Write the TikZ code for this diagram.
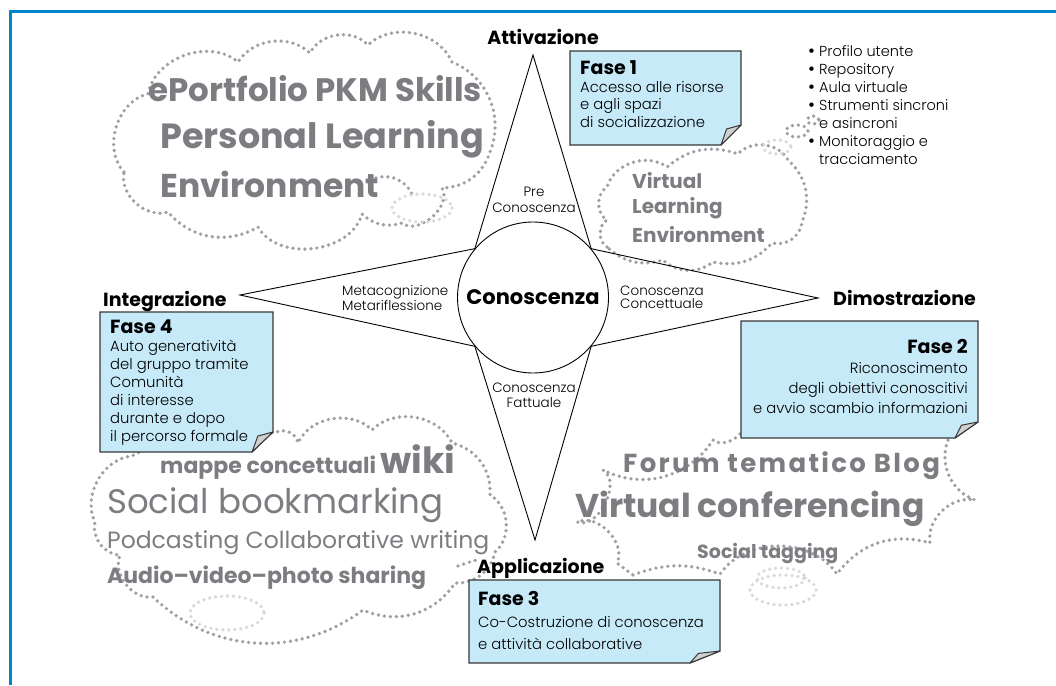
\documentclass[tikz,border=0pt]{standalone}
\usepackage{fontspec}
\setmainfont{Poppins}[BoldFont={Poppins Bold}]
\newfontfamily\lightfont{Poppins Light}
\newfontfamily\heavyfont{Poppins Black}
\definecolor{frameblue}{RGB}{0,133,199}
\definecolor{dotgray}{RGB}{158,159,162}
\definecolor{wordgray}{RGB}{124,125,129}
\definecolor{notefill}{RGB}{199,234,249}
\definecolor{foldgray}{RGB}{208,208,208}
\definecolor{noteedge}{RGB}{55,55,55}
\newcommand{\fasefont}{\normalfont\bfseries\fontsize{19}{19}\selectfont}
\newcommand{\blt}{\makebox[11pt][l]{\fontsize{19}{19}\selectfont\raisebox{-1.2pt}{\textbullet}}}
\tikzset{
	dotline/.style={draw=dotgray,line width=3.7pt,line cap=round,dash pattern=on 0pt off 6pt},
	fadeline/.style={dotline,draw=dotgray!40},
	word/.style 2 args={anchor=base west,inner sep=0pt,text=wordgray,font=#2\fontsize{#1}{#1}\selectfont},
	pole/.style={inner sep=0pt,font=\bfseries\fontsize{19}{19}\selectfont},
	facet/.style 2 args={inner sep=0pt,align=#1,font=\lightfont\fontsize{13.5}{#2}\selectfont},
	core/.style={circle,draw,line width=0.9pt,minimum size=151pt,inner sep=0pt,font=\bfseries\fontsize{21}{21}\selectfont},
	notebody/.style={fill=notefill,draw=noteedge,line width=1.2pt},
	notefold/.style={fill=foldgray,draw=noteedge,line width=1pt,line join=round},
	notetext/.style 2 args={inner sep=0pt,align=#1,font=\lightfont\fontsize{14.8}{#2}\selectfont}
}
% left, top, right, bottom, fold width, fold height
\newcommand{\notepaper}[6]{%
	\filldraw[notebody] (#1,#2) -- (#3,#2) -- (#3,#4-#6) -- (#3-#5,#4) -- (#1,#4) -- cycle;
	\filldraw[notefold] (#3,#4-#6) -- (#3-#5,#4) -- (#3-0.72*#5,#4-0.8*#6) -- cycle;
}

\begin{document}
\begin{tikzpicture}[x=1pt,y=-1pt]
	\useasboundingbox (0,0) rectangle (1056,685);
	\draw[frameblue,line width=3pt] (1056,12) -- (10,12) -- (10,685);

	% clouds
	\draw[dotline] (124,172) to[bend left=60] (148,94) to[bend left=60] (238,62)
		to[bend left=50] (310,53) to[bend left=55] (368,45) to[bend left=55] (452,62)
		to[bend left=45] (490,152) to[bend left=35] (442,188) to[bend left=80] (402,223)
		to[bend left=30] (362,214) to[bend left=67] (258,227) to[bend left=40] (168,212)
		to[bend left=60] (124,172);
	\draw[dotline] (376,178) to[bend left=40] (412,194);
	\draw[fadeline] (422,208) ellipse (30 and 14);

	\draw[dotline] (607,247) to[bend left=60] (607,220) to[bend left=60] (607,187)
		to[bend left=55] (667,167) to[bend left=30] (738,154) to[bend left=55] (788,160)
		to[bend left=35] (802,222) to[bend left=50] (772,243) to[bend left=30] (713,262)
		to[bend left=40] (663,260) to[bend left=30] (607,247);
	\draw[fadeline] (777,147) ellipse (14 and 7);
	\draw[dotline] (797,131) ellipse (11 and 6);
	\draw[dotline] (813,120) ellipse (6 and 4);

	\draw[dotline] (153,597) to[bend left=60] (120,555) to[bend left=50] (95,522)
		to[bend left=55] (132,456) to[bend left=20] (275,433) to[bend left=60] (298,443)
		to[bend left=55] (372,430) to[bend left=55] (452,443) to[bend left=40] (490,495)
		to[bend left=55] (495,552) to[bend left=40] (455,583) to[bend left=40] (363,610)
		to[bend left=40] (153,597);
	\draw[dotline] (458,566) -- (476,560);
	\draw[fadeline] (227,613) ellipse (37 and 17);

	\draw[dotline] (633,575) to[bend left=20] (720,574) to[bend left=55] (837,574)
		to[bend left=35] (930,543) to[bend left=55] (975,500) to[bend left=50] (950,436)
		-- (745,418) to[bend left=75] (713,440) to[bend left=42] (603,470)
		to[bend left=85] (577,522) to[bend left=70] (617,563) -- (633,575);
	\draw[fadeline] (783,590) ellipse (33 and 15);
	\draw[fadeline] (781,578) ellipse (24 and 10);

	% cloud words
	\node[word={32.5}{\bfseries}] (eport) at (148,101) {ePortfolio PKM Skills};
	\node[word={35}{\bfseries}] (ple) at (160,148) {Personal Learning};
	\node[word={33}{\bfseries}] (plenv) at (160,197) {Environment};

	\node[word={20}{\bfseries}] (vle1) at (632,188) {Virtual};
	\node[word={20}{\bfseries}] (vle2) at (632,213) {Learning};
	\node[word={20}{\bfseries}] (vle3) at (632,242) {Environment};

	\node[word={22}{\bfseries}] (mappe) at (160,473) {mappe concettuali {\heavyfont\fontsize{36}{36}\selectfont wiki}};
	\node[word={34}{}] (bookm) at (107,513) {Social bookmarking};
	\node[word={23.5}{}] (podc) at (107,548) {Podcasting Collaborative writing};
	\node[word={22}{\bfseries}] (avp) at (107,583) {Audio--video--photo sharing};

	\node[word={26}{\bfseries\addfontfeature{LetterSpace=9}}] (forum) at (623,472) {Forum tematico Blog};
	\node[word={33}{\bfseries}] (vconf) at (575,517) {Virtual conferencing};
	\node[word={19}{\bfseries}] (stag) at (697,558) {Social tagging};

	% star
	\node[core] (core) at (533,297.5) {Conoscenza};
	\coordinate (tipN) at (533,55);
	\coordinate (tipE) at (818,298);
	\coordinate (tipS) at (535,540);
	\coordinate (tipW) at (240,295);
	\draw[line width=0.9pt,line join=miter] (tipN) -- (core.40) -- (tipE) -- (core.320) -- (tipS)
		-- (core.220) -- (tipW) -- (core.140) -- cycle;

	\node[pole,anchor=base] (attiv) at (543,45) {Attivazione};
	\node[pole,anchor=base west] (dimos) at (833,305) {Dimostrazione};
	\node[pole,anchor=base west] (integ) at (103,306) {Integrazione};
	\node[pole,anchor=base west] (applic) at (477,573) {Applicazione};

	\node[facet={center}{16},anchor=north] (pre) at (534,187) {Pre\\Conoscenza};
	\node[facet={left}{13.5},anchor=north west] (meta) at (342,285.5) {Metacognizione\\Metariflessione};
	\node[facet={left}{13.5},anchor=north west] (conc) at (620,285.5) {Conoscenza\\Concettuale};
	\node[facet={center}{15},anchor=north] (fatt) at (534,382.5) {Conoscenza\\Fattuale};

	% phases
	\notepaper{570}{51}{741}{145}{20}{20}
	\node[notetext={left}{17.5},anchor=north west] (fase1) at (580,60.5)
		{{\fasefont Fase 1}\\Accesso alle risorse\\e agli spazi\\di socializzazione};
	\notepaper{741}{321}{978}{438}{23}{16}
	\node[notetext={right}{20},anchor=north east] (fase2) at (968,339.5)
		{{\fasefont Fase 2}\\Riconoscimento\\degli obiettivi conoscitivi\\e avvio scambio informazioni};
	\notepaper{469}{580}{720}{663}{30}{12}
	\node[notetext={left}{22},anchor=north west] (fase3) at (478,591.5)
		{{\fasefont Fase 3}\\Co-Costruzione di conoscenza\\e attività collaborative};
	\notepaper{100}{312}{273}{452}{21}{20}
	\node[notetext={left}{18},anchor=north west] (fase4) at (110,319.5)
		{{\fasefont Fase 4}\\Auto generatività\\del gruppo tramite\\Comunità\\di interesse\\durante e dopo\\il percorso formale};

	% vle tools
	\node[inner sep=0pt,align=left,anchor=north west,font=\lightfont\fontsize{14.5}{18}\selectfont] (tools) at (808,45)
		{\blt Profilo utente\\\blt Repository\\\blt Aula virtuale\\\blt Strumenti sincroni\\\hspace*{11pt}e asincroni\\\blt Monitoraggio e\\\hspace*{11pt}tracciamento};
\end{tikzpicture}
\end{document}
